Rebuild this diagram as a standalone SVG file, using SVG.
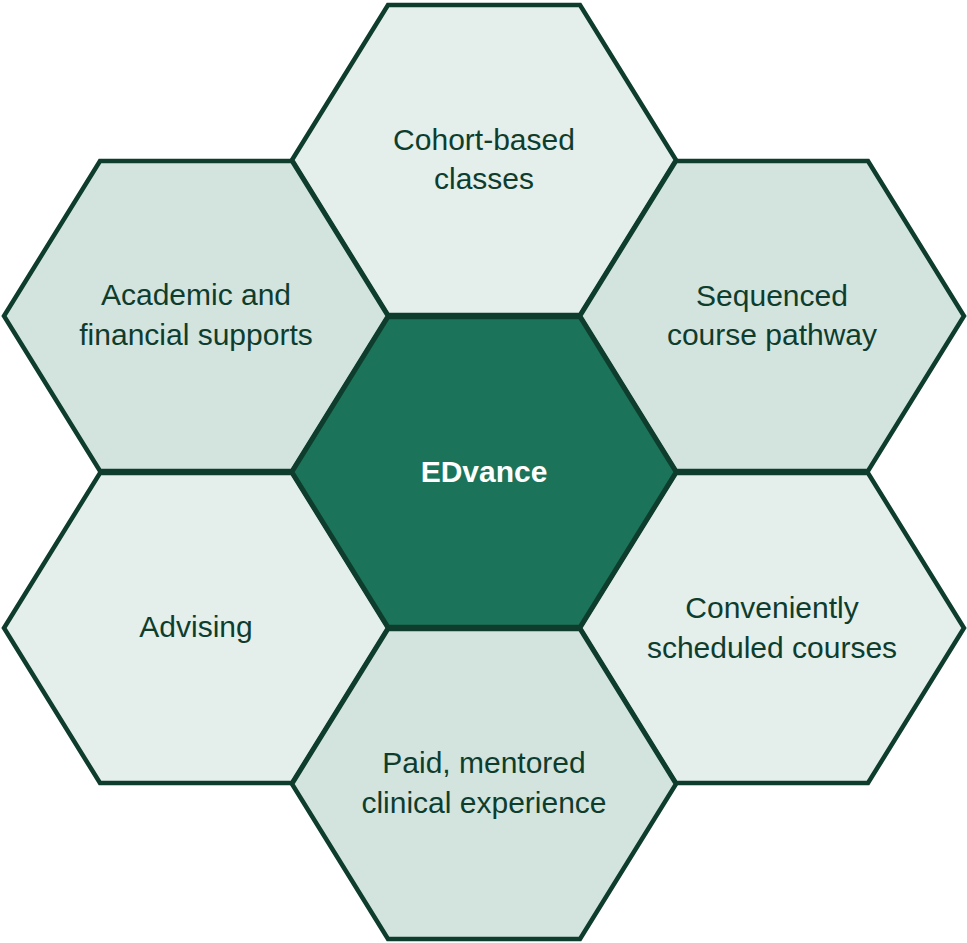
<svg xmlns="http://www.w3.org/2000/svg" width="967" height="943" viewBox="0 0 967 943">
<defs>
<style>
.hex{stroke:#0e3d2e;stroke-width:4.5;stroke-linejoin:miter}
.light{fill:#e4eeeb}
.mid{fill:#d3e4df}
.core{fill:#1b7459}
.lbl{font-family:"Liberation Sans",Arial,sans-serif;font-size:30px;fill:#0e3d2e;text-anchor:middle}
.core-lbl{font-family:"Liberation Sans",Arial,sans-serif;font-size:30px;font-weight:bold;fill:#ffffff;text-anchor:middle}
</style>
</defs>
<rect width="967" height="943" fill="#ffffff"/>
<g id="connectors"></g>
<g id="node-cohort">
<polygon class="hex light" points="292,160 388,5 580,5 676,160 580,315 388,315"/>
<text class="lbl" x="484" y="150">Cohort-based</text>
<text class="lbl" x="484" y="189">classes</text>
</g>
<g id="node-academic">
<polygon class="hex mid" points="4,316 100,161 292,161 388,316 292,471 100,471"/>
<text class="lbl" x="196" y="305">Academic and</text>
<text class="lbl" x="196" y="345">financial supports</text>
</g>
<g id="node-sequenced">
<polygon class="hex mid" points="580,316 676,161 868,161 964,316 868,471 676,471"/>
<text class="lbl" x="772" y="306">Sequenced</text>
<text class="lbl" x="772" y="345">course pathway</text>
</g>
<g id="node-advising">
<polygon class="hex light" points="4,628 100,473 292,473 388,628 292,783 100,783"/>
<text class="lbl" x="196" y="637">Advising</text>
</g>
<g id="node-conveniently">
<polygon class="hex light" points="580,628 676,473 868,473 964,628 868,783 676,783"/>
<text class="lbl" x="772" y="618">Conveniently</text>
<text class="lbl" x="772" y="658">scheduled courses</text>
</g>
<g id="node-paid">
<polygon class="hex mid" points="292,784 388,629 580,629 676,784 580,939 388,939"/>
<text class="lbl" x="484" y="773">Paid, mentored</text>
<text class="lbl" x="484" y="813">clinical experience</text>
</g>
<g id="node-edvance">
<polygon class="hex core" points="292,472 388,317 580,317 676,472 580,627 388,627"/>
<text class="core-lbl" x="484" y="482">EDvance</text>
</g>
</svg>
